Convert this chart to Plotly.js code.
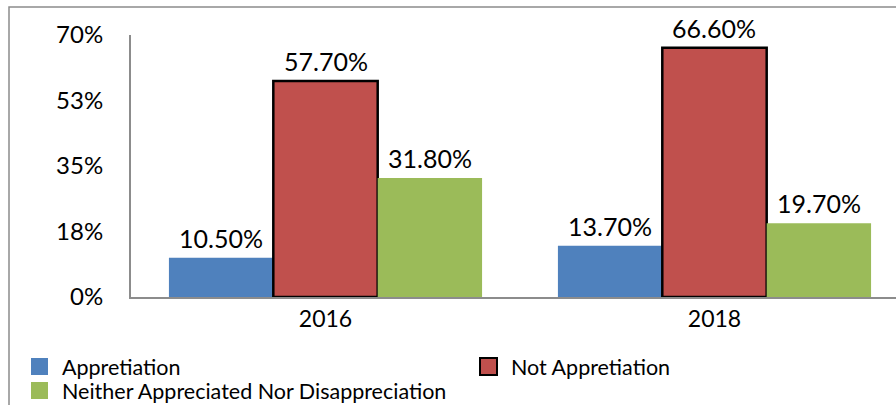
<!DOCTYPE html>
<html>
<head>
<meta charset="utf-8">
<script src="https://cdn.plot.ly/plotly-3.0.1.min.js"></script>
<style>html,body{margin:0;padding:0;overflow:hidden;background:#fff}#chart{width:896px;height:405px}</style>
</head>
<body>
<div id="chart"></div>
<script>
var years = ['2016', '2018'];
var seriesNames = ['Appretiation', 'Not Appretiation', 'Neither Appreciated Nor Disappreciation'];
var seriesColors = ['#4f81bd', '#c0504d', '#9bbb59'];
var appretiation = [10.5, 13.7];
var notAppretiation = [57.7, 66.6];
var neither = [31.8, 19.7];
var yTickVals = [0, 17.5, 35, 52.5, 70];
var yTickText = ['0%', '18%', '35%', '53%', '70%'];

var FONT = 'Lato, "Open Sans", sans-serif';
var ML = 131, MT = 35, MB = 108, W = 896, H = 405;
var PW = W - ML, PH = H - MT - MB;
var XRANGE = [-0.5, 1.4666];
var BARGAP = 0.195;
var catPx = PW / (XRANGE[1] - XRANGE[0]);
var barPx = catPx * (1 - BARGAP) / 3;
function px2x(px) { return (px - ML) / PW; }
function px2y(py) { return (H - MB - py) / PH; }

var seriesValues = [appretiation, notAppretiation, neither];
var data = seriesValues.map(function(vals, i) {
  var outline = i === 1;
  return {
    type: 'bar', name: seriesNames[i], x: years, y: vals,
    marker: {color: seriesColors[i], line: {color: outline ? '#000000' : seriesColors[i], width: outline ? 2.5 : 0}},
    hoverinfo: 'none', showlegend: false
  };
});

var annotations = [];
// value labels above bars (x given as category index)
seriesValues.forEach(function(vals, i) {
  vals.forEach(function(v, j) {
    annotations.push({
      xref: 'x', yref: 'y', x: j, y: v,
      xshift: (i - 1) * barPx, yshift: 3,
      xanchor: 'center', yanchor: 'bottom', showarrow: false,
      text: v.toFixed(2) + '%', font: {family: FONT, size: 25, color: '#000000'}
    });
  });
});

// manual legend (positions in pixels)
var legendItems = [
  {i: 0, sx: 31, sy: 358},
  {i: 1, sx: 480, sy: 358},
  {i: 2, sx: 31, sy: 382}
];
var shapes = [{
  type: 'rect', xref: 'paper', yref: 'paper',
  x0: px2x(9), x1: 2, y0: -1, y1: px2y(7),
  line: {color: '#8c8c8c', width: 1.5}, fillcolor: 'rgba(0,0,0,0)', layer: 'below'
}];
legendItems.forEach(function(it) {
  var outline = it.i === 1;
  shapes.push({
    type: 'rect', xref: 'paper', yref: 'paper',
    x0: px2x(it.sx), x1: px2x(it.sx + 17), y0: px2y(it.sy + 17), y1: px2y(it.sy),
    fillcolor: seriesColors[it.i],
    line: {color: outline ? '#000000' : seriesColors[it.i], width: outline ? 2 : 0}
  });
  annotations.push({
    xref: 'paper', yref: 'paper', x: px2x(it.sx + 29), y: px2y(it.sy + 8.5),
    xanchor: 'left', yanchor: 'middle', showarrow: false,
    text: seriesNames[it.i], font: {family: FONT, size: 21.5, color: '#000000'}
  });
});

var layout = {
  width: W, height: H,
  margin: {l: ML, r: 0, t: MT, b: MB, pad: 0},
  paper_bgcolor: '#ffffff', plot_bgcolor: '#ffffff',
  font: {family: FONT, size: 24, color: '#000000'},
  barmode: 'group', bargap: BARGAP, bargroupgap: 0,
  showlegend: false,
  xaxis: {
    type: 'category', range: XRANGE, showgrid: false, zeroline: false,
    showline: true, linecolor: '#8c8c8c', linewidth: 2,
    ticks: '', tickfont: {family: FONT, size: 23, color: '#000000'}, fixedrange: true
  },
  yaxis: {
    range: [0, 70], tickvals: yTickVals, ticktext: yTickText,
    showgrid: false, zeroline: false, showline: true, linecolor: '#8c8c8c', linewidth: 2,
    ticks: '', ticklabelstandoff: 21, tickfont: {family: FONT, size: 24, color: '#000000'}, fixedrange: true
  },
  shapes: shapes,
  annotations: annotations
};
Plotly.newPlot('chart', data, layout, {displayModeBar: false, staticPlot: true});
</script>
</body>
</html>
